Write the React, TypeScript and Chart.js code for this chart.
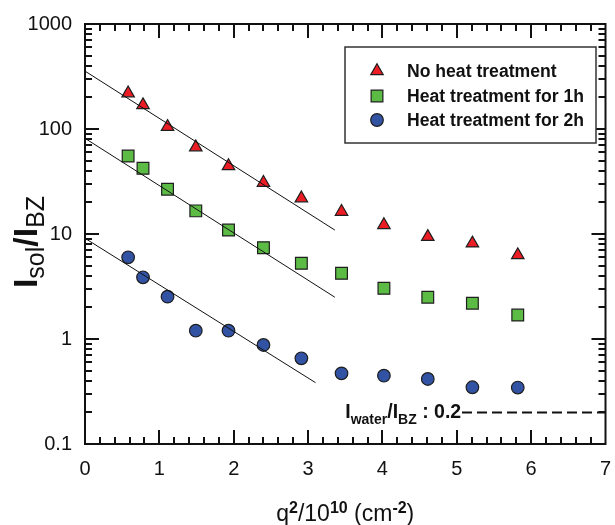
import React, { useEffect, useRef } from 'react';
import { Chart, registerables } from 'chart.js';

Chart.register(...registerables);

// ---- data ----
const qSquared = [0.58, 0.78, 1.11, 1.49, 1.93, 2.40, 2.91, 3.45, 4.02, 4.61, 5.21, 5.82];
const noHeat = [219, 169, 105, 67, 44.4, 30.8, 21.9, 16.3, 12.2, 9.4, 8.15, 6.3];
const heat1h = [55.3, 42.2, 26.7, 16.6, 10.9, 7.41, 5.26, 4.22, 3.04, 2.5, 2.19, 1.69];
const heat2h = [6.0, 3.87, 2.53, 1.2, 1.2, 0.877, 0.655, 0.471, 0.447, 0.416, 0.347, 0.345];

const fitNoHeatX = [0, 3.36];
const fitNoHeatY = [356, 10.9];
const fit1hX = [0, 3.36];
const fit1hY = [81.5, 2.5];
const fit2hX = [0, 3.10];
const fit2hY = [9.1, 0.384];

const waterX = [5.07, 7];
const waterY = [0.2, 0.2];
const waterLabelX = 3.5;
const waterLabelValue = '0.2';

const seriesLabels = ['No heat treatment', 'Heat treatment for 1h', 'Heat treatment for 2h'];
const xTickValues = [0, 1, 2, 3, 4, 5, 6, 7];
const yTickValues = [0.1, 1, 10, 100, 1000];

const FONT = '"Liberation Sans", Arial, Helvetica, sans-serif';
const RED = '#ec1c24';
const GREEN = '#5cbb45';
const BLUE = '#3253a4';
const EDGE = '#1e1e1e';

const pts = (xs: number[], ys: number[]) => xs.map((x, i) => ({ x, y: ys[i] }));

const markerStyles = [
  { style: 'triangle', radius: 7.2, color: RED },
  { style: 'rect', radius: 8.3, color: GREEN },
  { style: 'circle', radius: 6.3, color: BLUE },
];

function drawRich(ctx: CanvasRenderingContext2D, parts: { t: string; f: string; dy: number }[], x: number, y: number, align: 'left' | 'center') {
  let w = 0;
  parts.forEach(p => { ctx.font = p.f; w += ctx.measureText(p.t).width; });
  let cx = align === 'center' ? x - w / 2 : x;
  ctx.textAlign = 'left';
  ctx.textBaseline = 'alphabetic';
  parts.forEach(p => {
    ctx.font = p.f;
    ctx.fillText(p.t, cx, y + p.dy);
    cx += ctx.measureText(p.t).width;
  });
}

function drawPointLocal(ctx: CanvasRenderingContext2D, style: string, r: number, x: number, y: number) {
  ctx.beginPath();
  if (style === 'triangle') {
    ctx.moveTo(x, y - r);
    ctx.lineTo(x + Math.sin(2 * Math.PI / 3) * r, y + r / 2);
    ctx.lineTo(x - Math.sin(2 * Math.PI / 3) * r, y + r / 2);
    ctx.closePath();
  } else if (style === 'rect') {
    const s = r * Math.SQRT1_2;
    ctx.rect(x - s, y - s, 2 * s, 2 * s);
  } else {
    ctx.arc(x, y, r, 0, Math.PI * 2);
  }
  ctx.fill();
  ctx.stroke();
}

const decorPlugin = {
  id: 'decor',
  afterDraw(chart: any) {
    const ctx: CanvasRenderingContext2D = chart.ctx;
    const { left, right, top, bottom } = chart.chartArea;
    const xs = chart.scales.x;
    const ys = chart.scales.y;
    ctx.save();
    ctx.strokeStyle = '#111';
    ctx.fillStyle = '#111';
    // ticks
    ctx.lineWidth = 2;
    ctx.beginPath();
    for (let i = 1; i < 35; i++) {
      const v = i / 5;
      const px = Math.round(xs.getPixelForValue(v));
      const len = i % 5 === 0 ? 14 : 7;
      ctx.moveTo(px, bottom); ctx.lineTo(px, bottom - len);
      ctx.moveTo(px, top); ctx.lineTo(px, top + len);
    }
    for (let d = -1; d <= 2; d++) {
      for (let m = 1; m <= 9; m++) {
        const v = m * Math.pow(10, d);
        if (v <= 0.1 + 1e-9) continue;
        const py = Math.round(ys.getPixelForValue(v));
        const len = m === 1 ? 14 : 7;
        ctx.moveTo(left, py); ctx.lineTo(left + len, py);
        ctx.moveTo(right, py); ctx.lineTo(right - len, py);
      }
    }
    ctx.stroke();
    // frame
    ctx.lineWidth = 2;
    ctx.strokeRect(left, top, right - left, bottom - top);

    // legend
    const bx = 345, by = 47, bw = 251, bh = 96;
    ctx.fillStyle = '#fff';
    ctx.fillRect(bx, by, bw, bh);
    ctx.lineWidth = 1.5;
    ctx.strokeStyle = '#333';
    ctx.strokeRect(bx, by, bw, bh);
    const rows = [71, 96, 120];
    seriesLabels.forEach((lab, i) => {
      const ms = markerStyles[i];
      ctx.fillStyle = ms.color;
      ctx.strokeStyle = EDGE;
      ctx.lineWidth = 1.2;
      drawPointLocal(ctx, ms.style, ms.radius, 377, rows[i]);
      ctx.fillStyle = '#111';
      ctx.font = `bold 17.6px ${FONT}`;
      ctx.textAlign = 'left';
      ctx.textBaseline = 'middle';
      ctx.fillText(lab, 407, rows[i] + 1);
    });

    // water annotation
    ctx.fillStyle = '#111';
    const ax = xs.getPixelForValue(waterLabelX);
    const ay = ys.getPixelForValue(waterY[0]) + 5.5;
    const big = `bold 19.5px ${FONT}`;
    const small = `bold 14px ${FONT}`;
    drawRich(ctx, [
      { t: 'I', f: big, dy: 0 },
      { t: 'water', f: small, dy: 6 },
      { t: '/I', f: big, dy: 0 },
      { t: 'BZ', f: small, dy: 6 },
      { t: ' : ' + waterLabelValue, f: big, dy: 0 },
    ], ax, ay, 'left');

    // x title
    const xt = `23px ${FONT}`;
    const xsup = `bold 16px ${FONT}`;
    drawRich(ctx, [
      { t: 'q', f: xt, dy: 0 },
      { t: '2', f: xsup, dy: -8 },
      { t: '/10', f: xt, dy: 0 },
      { t: '10', f: xsup, dy: -8 },
      { t: ' (cm', f: xt, dy: 0 },
      { t: '-2', f: xsup, dy: -8 },
      { t: ')', f: xt, dy: 0 },
    ], (left + right) / 2, 520.5, 'center');

    // y title
    ctx.save();
    ctx.translate(37, 242);
    ctx.rotate(-Math.PI / 2);
    const yb = `bold 34px ${FONT}`;
    const ysub = `25px ${FONT}`;
    drawRich(ctx, [
      { t: 'I', f: yb, dy: 0 },
      { t: 'sol', f: ysub, dy: 7 },
      { t: '/I', f: yb, dy: 0 },
      { t: 'BZ', f: ysub, dy: 7 },
    ], 0, 0, 'center');
    ctx.restore();
    ctx.restore();
  },
};

export default function App() {
  const ref = useRef<HTMLCanvasElement>(null);
  useEffect(() => {
    if (!ref.current) return;
    const scatter = (i: number, data: number[]) => ({
      type: 'scatter' as const,
      label: seriesLabels[i],
      data: pts(qSquared, data),
      pointStyle: markerStyles[i].style,
      pointRadius: markerStyles[i].radius,
      backgroundColor: markerStyles[i].color,
      borderColor: EDGE,
      borderWidth: 1.2,
      showLine: false,
      order: 2,
    });
    const line = (xs: number[], ysv: number[], dash: number[] = [], w = 1) => ({
      type: 'line' as const,
      data: pts(xs, ysv),
      borderColor: '#111',
      borderWidth: w,
      borderDash: dash,
      pointRadius: 0,
      fill: false,
      order: 1,
    });
    const chart = new Chart(ref.current, {
      type: 'scatter',
      data: {
        datasets: [
          scatter(0, noHeat),
          scatter(1, heat1h),
          scatter(2, heat2h),
          line(fitNoHeatX, fitNoHeatY),
          line(fit1hX, fit1hY),
          line(fit2hX, fit2hY),
          line(waterX, waterY, [10, 5], 2),
        ] as any,
      },
      options: {
        animation: false,
        responsive: true,
        maintainAspectRatio: false,
        layout: { padding: { top: 24, right: 5.5, left: 0, bottom: 0 } },
        plugins: { legend: { display: false }, tooltip: { enabled: false } },
        scales: {
          x: {
            type: 'linear',
            min: 0,
            max: 7,
            afterBuildTicks: (s: any) => { s.ticks = xTickValues.map(v => ({ value: v })); },
            afterFit: (s: any) => { s.height = 81; s.paddingLeft = 0; s.paddingRight = 0; },
            grid: { display: false, drawTicks: false },
            border: { display: false },
            ticks: { color: '#111', font: { family: FONT, size: 20 }, padding: 13, maxRotation: 0 },
          },
          y: {
            type: 'logarithmic',
            min: 0.1,
            max: 1000,
            afterBuildTicks: (s: any) => { s.ticks = yTickValues.map(v => ({ value: v })); },
            afterFit: (s: any) => { s.width = 85; s.paddingTop = 0; s.paddingBottom = 0; },
            grid: { display: false, drawTicks: false },
            border: { display: false },
            ticks: {
              color: '#111',
              font: { family: FONT, size: 20 },
              padding: 13,
              callback: (v: any) => String(Number(v)),
            },
          },
        },
      } as any,
      plugins: [decorPlugin],
    });
    return () => chart.destroy();
  }, []);
  return (
    <div style={{ position: 'absolute', left: 0, top: 0, width: 615, height: 525, background: '#fff' }}>
      <canvas ref={ref} />
    </div>
  );
}
